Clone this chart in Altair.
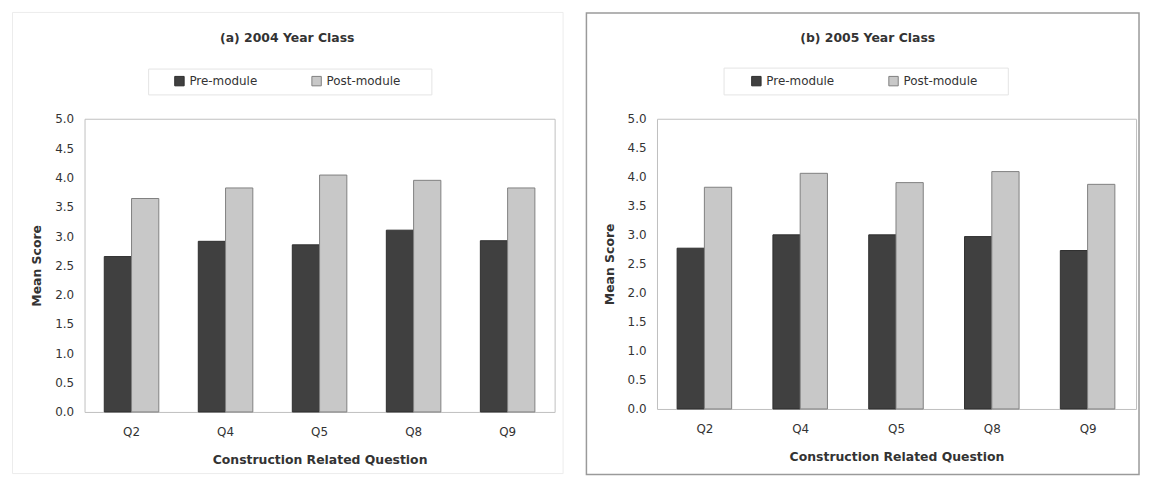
import altair as alt
import pandas as pd

questions = ["Q2", "Q4", "Q5", "Q8", "Q9"]
periods = ["Pre-module", "Post-module"]
pre_2004 = [2.65, 2.91, 2.85, 3.10, 2.92]
post_2004 = [3.64, 3.82, 4.04, 3.95, 3.82]
pre_2005 = [2.77, 3.00, 3.00, 2.97, 2.73]
post_2005 = [3.82, 4.06, 3.90, 4.09, 3.87]
y_ticks = [0.0, 0.5, 1.0, 1.5, 2.0, 2.5, 3.0, 3.5, 4.0, 4.5, 5.0]

FONT = "DejaVu Sans"
TXT = "#333333"


def long_table(pre, post):
    rows = []
    for q, a, b in zip(questions, pre, post):
        rows.append({"Question": q, "Period": periods[0], "Score": a})
        rows.append({"Question": q, "Period": periods[1], "Score": b})
    return pd.DataFrame(rows)


def panel(pre, post, title, w, h, box, legend_xy, title_xy, legbox, border_color, border_w):
    df = long_table(pre, post)
    one = pd.DataFrame({"d": [0]})

    bars = alt.Chart(df).mark_bar(strokeWidth=1).encode(
        x=alt.X("Question:N", sort=questions,
                scale=alt.Scale(paddingInner=0.42, paddingOuter=0.21),
                axis=alt.Axis(title="Construction Related Question", labelAngle=0,
                              domain=False, ticks=False, labelPadding=15,
                              titlePadding=16)),
        xOffset=alt.XOffset("Period:N", sort=periods, scale=alt.Scale(paddingInner=0, paddingOuter=0)),
        y=alt.Y("Score:Q", scale=alt.Scale(domain=[0, 5], nice=False),
                axis=alt.Axis(title="Mean Score", values=y_ticks, format=".1f",
                              grid=False, domain=False, ticks=False, labelPadding=11,
                              titlePadding=11)),
        color=alt.Color("Period:N", sort=periods,
                        scale=alt.Scale(domain=periods, range=["#404040", "#c8c8c8"]),
                        legend=alt.Legend(title=None, orient="none", direction="horizontal",
                                          legendX=legend_xy[0], legendY=legend_xy[1],
                                          columns=2, columnPadding=52, labelOffset=4,
                                          symbolType="square", symbolSize=90,
                                          symbolStrokeColor="#808080", symbolStrokeWidth=1,
                                          labelFont=FONT, labelFontSize=12, labelColor=TXT,
                                          padding=0)),
        stroke=alt.Stroke("Period:N", sort=periods,
                          scale=alt.Scale(domain=periods, range=["#2e2e2e", "#808080"]),
                          legend=None),
    )

    border = alt.Chart(one).mark_rect(fillOpacity=0, stroke=border_color, strokeWidth=border_w).encode(
        x=alt.value(box[0]), x2=alt.value(box[1]), y=alt.value(box[2]), y2=alt.value(box[3]))

    lbox = alt.Chart(one).mark_rect(fillOpacity=0, stroke="#e4e4e4", strokeWidth=1).encode(
        x=alt.value(legbox[0]), x2=alt.value(legbox[1]), y=alt.value(legbox[2]), y2=alt.value(legbox[3]))

    ttl = alt.Chart(one).mark_text(font=FONT, fontSize=12.5, fontWeight="bold", color=TXT,
                                   align="center", baseline="middle").encode(
        x=alt.value(title_xy[0]), y=alt.value(title_xy[1]), text=alt.value(title))

    return alt.layer(border, lbox, ttl, bars).properties(width=w, height=h)


a = panel(pre_2004, post_2004, "(a) 2004 Year Class", 473, 295,
          box=(-72.5, 481.5, -107, 357), legend_xy=(89.5, -44), title_xy=(204, -81),
          legbox=(64.5, 349.5, -50, -24), border_color="#ececec", border_w=1)
b = panel(pre_2005, post_2005, "(b) 2005 Year Class", 482, 292,
          box=(-71, 485, -106.3, 358), legend_xy=(94, -44), title_xy=(212, -81),
          legbox=(67.5, 353.5, -51, -24), border_color="#9a9a9a", border_w=1.5)

chart = alt.hconcat(a, b, spacing=20).resolve_scale(
    color="independent", stroke="independent", x="independent"
).properties(
    padding={"left": 3, "top": 2, "right": 0, "bottom": 0},
    background="white",
).configure_view(
    stroke="#c0c0c0", strokeWidth=1
).configure_axis(
    labelFont=FONT, labelFontSize=12, labelColor=TXT,
    titleFont=FONT, titleFontSize=12.5, titleFontWeight="bold", titleColor=TXT,
)

chart.save("out.html", embed_options={"renderer": "svg", "actions": False})
